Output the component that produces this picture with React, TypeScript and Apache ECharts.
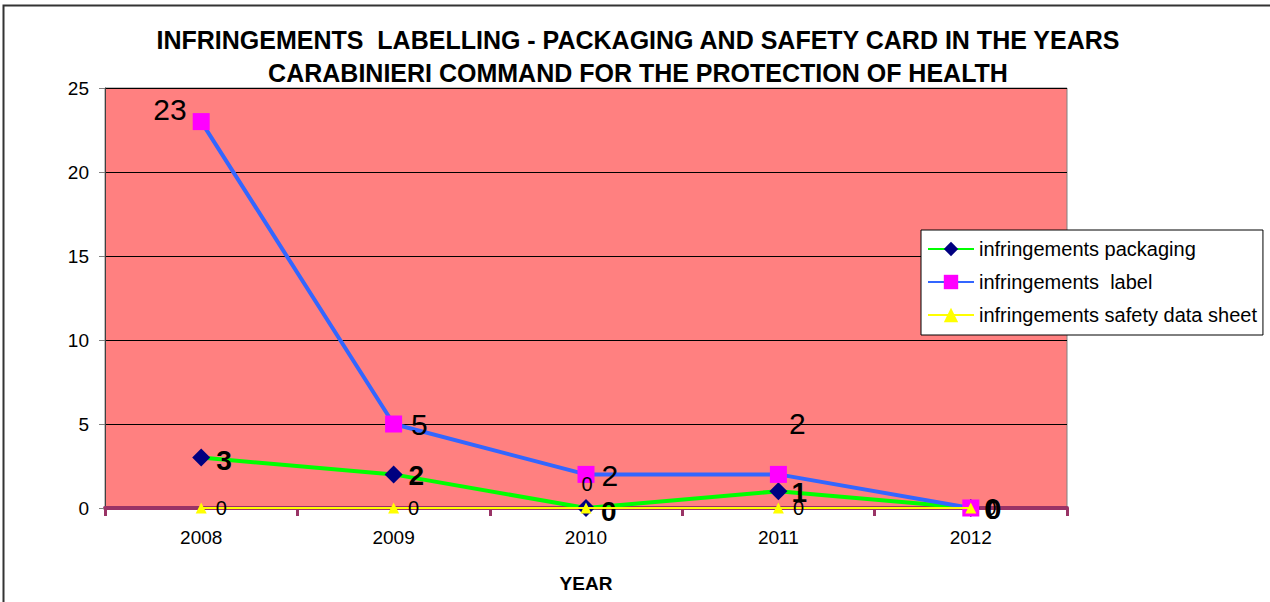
import React, { useEffect, useRef } from "react";
import * as echarts from "echarts";

const years = ["2008", "2009", "2010", "2011", "2012"];
const packaging = [3, 2, 0, 1, 0];
const label = [23, 5, 2, 2, 0];
const safety = [0, 0, 0, 0, 0];
const yTicks = { min: 0, max: 25, interval: 5 };

const FONT = "Liberation Sans, Arial, sans-serif";

// label placement per point (styling only)
const labelPos = [
  { position: "left", distance: 6, offset: [0, -12] },
  { position: "right", distance: 9, offset: [0, 0] },
  { position: "right", distance: 7, offset: [0, 1] },
  { position: "top", distance: 5, offset: [19, -22] },
  { position: "right", distance: 5, offset: [0, 0] },
];
const packPos = [
  { position: "right", distance: 6, offset: [0, 3] },
  { position: "right", distance: 6, offset: [0, 1] },
  { position: "right", distance: 6, offset: [0, 3] },
  { position: "right", distance: 4, offset: [0, 1] },
  { position: "right", distance: 6, offset: [0, 1] },
];
const safetyPos = [
  { position: "right", distance: 9, offset: [0, 0] },
  { position: "right", distance: 9, offset: [0, 0] },
  { position: "right", distance: 0, offset: [-10, -24] },
  { position: "right", distance: 9, offset: [0, 0] },
  { position: "right", distance: 9, offset: [0, 0] },
];

export default function App() {
  const ref = useRef<HTMLDivElement>(null);
  useEffect(() => {
    document.body.style.margin = "0";
    const chart = echarts.init(ref.current!, null, { renderer: "svg" });
    chart.setOption({
      animation: false,
      backgroundColor: "#ffffff",
      title: {
        text: "INFRINGEMENTS  LABELLING - PACKAGING AND SAFETY CARD IN THE YEARS\nCARABINIERI COMMAND FOR THE PROTECTION OF HEALTH",
        left: 638,
        textAlign: "center",
        top: 23,
        padding: 0,
        textStyle: {
          fontFamily: FONT,
          fontWeight: "bold",
          fontSize: 25,
          lineHeight: 33,
          color: "#000",
        },
      },
      graphic: [
        {
          type: "rect",
          shape: { x: 3.5, y: 5.5, width: 1300, height: 700 },
          style: { fill: "none", stroke: "#333", lineWidth: 2 },
          silent: true,
        },
      ],
      legend: {
        orient: "vertical",
        left: 921,
        top: 230,
        backgroundColor: "#ffffff",
        borderColor: "#000",
        borderWidth: 1,
        padding: [9, 6, 10, 6],
        itemWidth: 46,
        itemHeight: 18,
        itemGap: 13,
        textStyle: { fontFamily: FONT, fontSize: 20, color: "#000" },
        data: ["infringements packaging", "infringements  label", "infringements safety data sheet"],
      },
      grid: {
        left: 105,
        top: 88,
        right: 203,
        bottom: 94,
        show: true,
        backgroundColor: "#FF8080",
        borderColor: "#808080",
        borderWidth: 1,
        containLabel: false,
      },
      xAxis: {
        type: "category",
        data: years,
        boundaryGap: true,
        name: "YEAR",
        nameLocation: "middle",
        nameGap: 66,
        nameTextStyle: { fontFamily: FONT, fontWeight: "bold", fontSize: 19, color: "#000" },
        axisLine: { show: true, lineStyle: { color: "#993366", width: 4 } },
        axisTick: { show: true, length: 8, lineStyle: { color: "#993366", width: 3 } },
        axisLabel: { fontFamily: FONT, fontSize: 19, color: "#000", margin: 20 },
        splitLine: { show: false },
      },
      yAxis: {
        type: "value",
        min: yTicks.min,
        max: yTicks.max,
        interval: yTicks.interval,
        axisLine: { show: true, lineStyle: { color: "#404040", width: 1 } },
        axisTick: { show: true, length: 6, lineStyle: { color: "#808080" } },
        axisLabel: { fontFamily: FONT, fontSize: 19, color: "#000", margin: 16 },
        splitLine: { show: true, lineStyle: { color: "#000", width: 1 } },
      },
      series: [
        {
          name: "infringements packaging",
          type: "line",
          data: packaging.map((v, i) => ({
            value: v,
            label: { ...packPos[i] },
          })),
          symbol: "diamond",
          symbolSize: 18,
          itemStyle: { color: "#000080" },
          lineStyle: { color: "#00FF00", width: 4 },
          label: {
            show: true,
            fontFamily: FONT,
            fontWeight: "bold",
            fontSize: 28,
            color: "#000",
          },
          z: 3,
        },
        {
          name: "infringements  label",
          type: "line",
          data: label.map((v, i) => ({
            value: v,
            label: { ...labelPos[i] },
          })),
          symbol: "rect",
          symbolSize: 17,
          itemStyle: { color: "#FF00FF" },
          lineStyle: { color: "#3366FF", width: 4 },
          label: {
            show: true,
            fontFamily: FONT,
            fontSize: 30,
            color: "#000",
          },
          z: 4,
        },
        {
          name: "infringements safety data sheet",
          type: "line",
          data: safety.map((v, i) => ({
            value: v,
            label: { ...safetyPos[i] },
          })),
          symbol: "triangle",
          symbolSize: 11,
          itemStyle: { color: "#FFFF00" },
          lineStyle: { color: "#FFFF00", width: 2 },
          label: {
            show: true,
            fontFamily: FONT,
            fontSize: 20,
            color: "#000",
          },
          z: 5,
        },
      ],
    });
    return () => chart.dispose();
  }, []);
  return <div ref={ref} style={{ width: 1270, height: 602 }} />;
}
